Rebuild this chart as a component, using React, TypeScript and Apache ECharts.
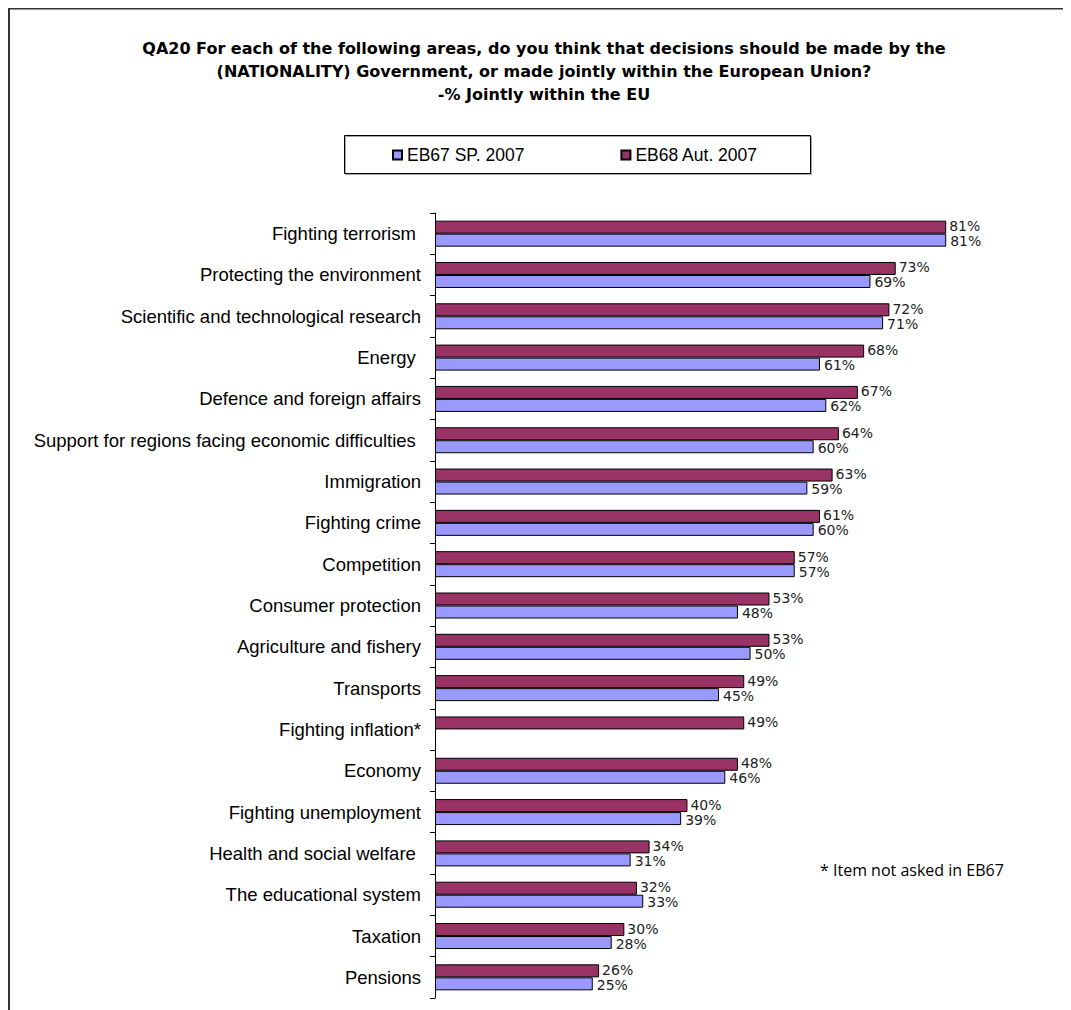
import React, { useEffect, useRef } from "react";
import * as echarts from "echarts";

const categories = [
  "Fighting terrorism ",
  "Protecting the environment",
  "Scientific and technological research",
  "Energy ",
  "Defence and foreign affairs",
  "Support for regions facing economic difficulties ",
  "Immigration",
  "Fighting crime",
  "Competition",
  "Consumer protection",
  "Agriculture and fishery",
  "Transports",
  "Fighting inflation*",
  "Economy",
  "Fighting unemployment",
  "Health and social welfare ",
  "The educational system",
  "Taxation",
  "Pensions",
];

const eb68Aut2007 = [81, 73, 72, 68, 67, 64, 63, 61, 57, 53, 53, 49, 49, 48, 40, 34, 32, 30, 26];
const eb67Sp2007: (number | null)[] = [81, 69, 71, 61, 62, 60, 59, 60, 57, 48, 50, 45, null, 46, 39, 31, 33, 28, 25];

const seriesNames = ["EB67 SP. 2007", "EB68 Aut. 2007"];
const titleLines = [
  "QA20 For each of the following areas, do you think that decisions should be made by the",
  "(NATIONALITY) Government, or made jointly within the European Union?",
  "-% Jointly within the EU",
];
const footnote = "* Item not asked in EB67";

export default function App() {
  const ref = useRef<HTMLDivElement>(null);
  useEffect(() => {
    if (!ref.current) return;
    const chart = echarts.init(ref.current, undefined, { renderer: "svg" });
    const labelFont = {
      fontFamily: "DejaVu Sans",
      fontSize: 14,
      color: "#222",
    };
    chart.setOption({
      animation: false,
      backgroundColor: "#fff",
      grid: { left: 427, right: 68, top: 205, bottom: 12, containLabel: false },
      legend: {
        data: seriesNames,
        left: 384,
        top: 138,
        padding: 0,
        itemGap: 96,
        itemWidth: 9,
        itemHeight: 9,
        icon: "rect",
        textStyle: { fontFamily: "Liberation Sans", fontSize: 17.5, color: "#000" },
      },
      xAxis: { type: "value", min: 0, max: 90, show: false },
      yAxis: {
        type: "category",
        data: categories,
        inverse: true,
        axisLine: { show: true, lineStyle: { color: "#000", width: 1 } },
        axisTick: { show: true, length: 5, lineStyle: { color: "#000" } },
        axisLabel: {
          fontFamily: "Liberation Sans",
          fontSize: 18.5,
          color: "#000",
          margin: 14,
        },
        splitLine: { show: false },
      },
      series: [
        {
          name: seriesNames[1],
          type: "bar",
          data: eb68Aut2007,
          barWidth: 13,
          barGap: "0%",
          itemStyle: { color: "#993366", borderColor: "#000", borderWidth: 1 },
          label: {
            show: true,
            position: "right",
            distance: 3,
            offset: [0, -1],
            formatter: "{c}%",
            ...labelFont,
          },
        },
        {
          name: seriesNames[0],
          type: "bar",
          data: eb67Sp2007,
          barWidth: 13,
          barGap: "0%",
          itemStyle: { color: "#9999FF", borderColor: "#000", borderWidth: 1 },
          label: {
            show: true,
            position: "right",
            distance: 4,
            offset: [0, 1],
            formatter: "{c}%",
            ...labelFont,
          },
        },
      ],
      graphic: [
        {
          type: "rect",
          shape: { x: 1, y: 0.5, width: 1200, height: 1100 },
          style: { fill: "none", stroke: "#333", lineWidth: 2 },
          silent: true,
        },
        {
          type: "text",
          x: 536,
          y: 28.5,
          style: {
            text: titleLines.join("\n"),
            align: "center",
            verticalAlign: "top",
            lineHeight: 23,
            font: "bold 16px 'DejaVu Sans', sans-serif",
            fill: "#000",
          },
        },
        {
          type: "rect",
          shape: { x: 336.5, y: 127.5, width: 466, height: 38 },
          style: {
            fill: "none",
            stroke: "#000",
            lineWidth: 1,
            shadowColor: "rgba(0,0,0,0.35)",
            shadowOffsetX: 1,
            shadowOffsetY: 1,
            shadowBlur: 1,
          },
          z: -1,
          silent: true,
        },
        {
          type: "text",
          x: 812,
          y: 862,
          style: {
            text: footnote,
            verticalAlign: "middle",
            font: "16px 'Open Sans', sans-serif",
            fill: "#000",
          },
        },
      ],
    });
    return () => chart.dispose();
  }, []);
  return <div ref={ref} style={{ width: 1063, height: 1002 }} />;
}
